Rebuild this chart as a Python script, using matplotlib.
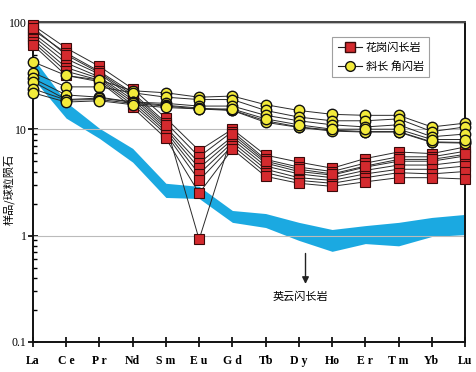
import matplotlib.pyplot as plt

plt.rcParams['font.family'] = ['Liberation Serif', 'Noto Sans CJK SC', 'DejaVu Sans']

elements = ['La', 'Ce', 'Pr', 'Nd', 'Sm', 'Eu', 'Gd', 'Tb', 'Dy', 'Ho', 'Er', 'Tm', 'Yb', 'Lu']
tick_labels = ['La', 'C e', 'P r', 'Nd', 'S m', 'E u', 'G d', 'Tb', 'D y', 'Ho', 'E r', 'T m', 'Yb', 'Lu']

# granodiorite samples
granodiorite = [
    [95, 58, 39, 24, 12.7, 6.3, 10.0, 5.7, 4.9, 4.3, 5.3, 6.1, 5.9, 6.8],
    [86, 52, 35, 22, 11.5, 5.5, 9.5, 5.2, 4.4, 4.0, 4.8, 5.5, 5.5, 6.2],
    [80, 46, 33, 20, 10.5, 4.8, 8.5, 4.8, 4.0, 3.7, 4.4, 5.0, 5.0, 5.6],
    [75, 42, 31, 19, 10.0, 4.3, 8.0, 4.5, 3.8, 3.5, 4.1, 4.6, 4.6, 5.0],
    [70, 38, 30, 18, 9.5, 3.8, 7.5, 4.2, 3.5, 3.3, 3.8, 4.2, 4.2, 4.5],
    [66, 35, 29, 17, 9.0, 3.3, 7.0, 3.9, 3.3, 3.1, 3.5, 3.9, 3.8, 4.0],
    [62, 32, 28, 16, 8.2, 2.5, 6.5, 3.6, 3.1, 2.9, 3.2, 3.5, 3.5, 3.4],
    [90, 50, 34, 21, 11.0, 0.92, 9.0, 5.0, 4.2, 3.8, 4.5, 5.2, 5.2, 5.8],
]

# amphibolite samples
amphibolite = [
    [43, 32, 29, 23, 22.0, 20.0, 20.5, 17.0, 15.0, 13.8, 13.5, 13.5, 10.5, 11.4],
    [34, 25, 25, 22, 20.0, 19.0, 19.0, 15.0, 13.0, 12.0, 12.0, 12.5, 9.5, 10.5],
    [30, 21, 20, 18, 17.5, 16.5, 16.5, 13.5, 12.0, 11.0, 10.5, 11.0, 8.5, 9.0],
    [28, 19, 19.6, 18, 16.8, 15.8, 15.1, 12.0, 10.5, 9.8, 9.5, 9.5, 7.6, 7.5],
    [24, 18.8, 19, 17.5, 16.5, 15.5, 15.0, 11.6, 10.4, 9.6, 9.4, 9.4, 7.5, 7.4],
    [22, 18, 18.5, 17, 16.0, 15.5, 15.5, 12.5, 11.0, 10.0, 10.0, 10.0, 8.0, 8.0],
]

# tonalite range (band)
tonalite_upper = [47, 18, 10.2, 6.6, 3.1, 2.9, 1.72, 1.61, 1.33, 1.14, 1.24, 1.33, 1.48, 1.58]
tonalite_lower = [30, 12.7, 8.2, 4.9, 2.28, 2.23, 1.33, 1.19, 0.90, 0.71, 0.84, 0.80, 0.98, 1.02]

x = list(range(len(elements)))

fig = plt.figure(figsize=(4.77, 3.72), dpi=100)
ax = fig.add_axes([0.069, 0.081, 0.906, 0.860])

ax.fill_between(x, tonalite_lower, tonalite_upper, color='#1ba9e1', lw=0, zorder=1)
for v in [1, 10, 100]:
    ax.axhline(v, color='#bbbbbb', lw=0.8, zorder=2)

for s in granodiorite:
    ax.plot(x, s, color='#2a2a2a', lw=0.7, zorder=3)
for s in amphibolite:
    ax.plot(x, s, color='#2a2a2a', lw=0.7, zorder=3)
for s in granodiorite:
    ax.plot(x, s, ls='none', marker='s', ms=7.5, mfc='#d42a2e', mec='#3a0a0a', mew=0.8,
            zorder=4, clip_on=False)
for s in amphibolite:
    ax.plot(x, s, ls='none', marker='o', ms=7.5, mfc='#f2ea3a', mec='#111111', mew=1.0,
            zorder=5, clip_on=False)

h1, = ax.plot([], [], color='#222222', lw=0.8, marker='s', ms=7, mfc='#d42a2e', mec='#3a0a0a')
h2, = ax.plot([], [], color='#222222', lw=0.8, marker='o', ms=7, mfc='#f2ea3a', mec='#111111')
leg = ax.legend([h1, h2], ['花岗闪长岩', '斜长 角闪岩'], loc='upper right',
                bbox_to_anchor=(0.93, 0.97), fancybox=False, edgecolor='#888888',
                prop={'family': ['Noto Sans CJK SC'], 'size': 8}, handlelength=2.2,
                borderpad=0.5, labelspacing=0.7, handletextpad=0.3)
leg.get_frame().set_linewidth(0.8)

ax.annotate('', xy=(8.2, 0.33), xytext=(8.2, 0.72),
            arrowprops=dict(arrowstyle='-|>', color='#222222', lw=1.0, mutation_scale=10), zorder=6)
ax.text(8.05, 0.27, '英云闪长岩', ha='center', va='center', fontsize=8,
        family=['Noto Sans CJK SC'])

ax.set_yscale('log')
ax.set_ylim(0.1, 102)
ax.set_xlim(0, 13)
ax.set_xticks(x)
ax.set_xticklabels(tick_labels, fontsize=8.5, fontweight='bold')
ax.set_yticks([0.1, 1, 10, 100])
ax.set_yticklabels(['0.1', '1', '10', '100'], fontsize=8.5)
ax.tick_params(axis='x', direction='inout', length=7, width=1.2, pad=6)
ax.tick_params(axis='y', which='major', direction='inout', length=7, width=1.2, pad=1)
ax.tick_params(axis='y', which='minor', direction='in', length=3, width=1.0)
ax.set_ylabel('样品/球粒陨石', family=['Noto Sans CJK SC'], fontsize=8)
ax.yaxis.set_label_coords(-0.042, 0.475)

for sp in ax.spines.values():
    sp.set_linewidth(1.4)
    sp.set_color('#111111')
ax.spines['top'].set_color('#444444')

fig.savefig('out.png', dpi=100)
